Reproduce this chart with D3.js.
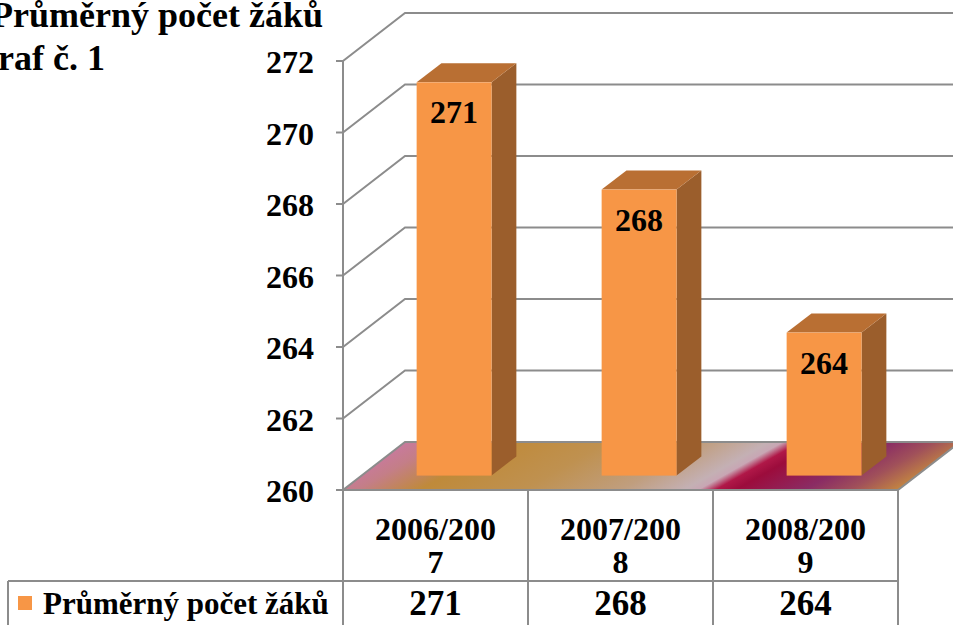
<!DOCTYPE html>
<html>
<head>
<meta charset="utf-8">
<script src="https://cdn.jsdelivr.net/npm/d3@7"></script>
<style>
  html, body { margin: 0; padding: 0; background: #fff; overflow: hidden; }
  svg { display: block; font-family: "Liberation Serif", "Times New Roman", serif; font-weight: bold; }
</style>
</head>
<body>
<div id="chart"></div>
<script>
// data
var categories = ['2006/2007', '2007/2008', '2008/2009'];
var values = [271, 268, 264];
var seriesName = 'Průměrný počet žáků';
var titleLines = ['Průměrný počet žáků', 'Graf č. 1'];
var yTicks = [260, 262, 264, 266, 268, 270, 272];

var W = 953, H = 625;
var conf = {
    left: 343, right: 898, top: 61, bottom: 490,
    depthX: 62, depthY: -48,
    barFront: 0.3, barBack: 0.7, barRatio: 0.405
};
var gridColor = '#8c8c8c';

var svg = d3.select('#chart').append('svg')
    .attr('width', W)
    .attr('height', H);

var y = d3.scaleLinear().domain([260, 272]).range([conf.bottom, conf.top]);
var x = d3.scaleBand().domain(categories).range([conf.left, conf.right]);

// floor gradient
var defs = svg.append('defs');
var grad = defs.append('linearGradient')
    .attr('id', 'floorGrad')
    .attr('gradientUnits', 'userSpaceOnUse')
    .attr('x1', 405).attr('y1', 443)
    .attr('x2', 544).attr('y2', 689);
var stops = [
    [0.0, '#c87a9c'], [0.06, '#c47e88'], [0.17, '#bf8a3a'], [0.35, '#bf9150'],
    [0.52, '#c09e7e'], [0.63, '#c4b0b4'], [0.655, '#c8a6b4'], [0.685, '#b01848'],
    [0.72, '#9c0c3c'], [0.78, '#941c50'], [0.84, '#8a2c64'], [0.92, '#a0505a'],
    [1.0, '#c28442']
];
grad.selectAll('stop').data(stops).enter().append('stop')
    .attr('offset', function(d) { return d[0]; })
    .attr('stop-color', function(d) { return d[1]; });

// gridlines: left wall + back wall
var grid = svg.append('g').attr('class', 'grid');
grid.selectAll('path').data(yTicks.slice(1)).enter().append('path')
    .attr('d', function(d) {
        var yy = y(d);
        return 'M' + conf.left + ',' + yy +
            'L' + (conf.left + conf.depthX) + ',' + (yy + conf.depthY) +
            'L' + W + ',' + (yy + conf.depthY);
    })
    .attr('fill', 'none')
    .attr('stroke', gridColor)
    .attr('stroke-width', 2);

// floor
var fy = y(260);
svg.append('path')
    .attr('d', 'M' + conf.left + ',' + fy +
        'L' + conf.right + ',' + fy +
        'L' + (conf.right + conf.depthX) + ',' + (fy + conf.depthY) +
        'L' + (conf.left + conf.depthX) + ',' + (fy + conf.depthY) + 'Z')
    .attr('fill', 'url(#floorGrad)')
    .attr('stroke', gridColor)
    .attr('stroke-width', 2);

// y axis line + ticks
svg.append('line')
    .attr('x1', conf.left).attr('x2', conf.left)
    .attr('y1', y(272)).attr('y2', y(260))
    .attr('stroke', gridColor).attr('stroke-width', 2);

svg.append('g').selectAll('line').data(yTicks).enter().append('line')
    .attr('x1', conf.left - 7).attr('x2', conf.left)
    .attr('y1', function(d) { return y(d); })
    .attr('y2', function(d) { return y(d); })
    .attr('stroke', gridColor).attr('stroke-width', 2);

svg.append('g').selectAll('text').data(yTicks).enter().append('text')
    .attr('x', 314)
    .attr('y', function(d) { return y(d) + 12; })
    .attr('text-anchor', 'end')
    .attr('font-size', 32)
    .text(function(d) { return d; });

// bars
var bw = x.bandwidth() * conf.barRatio;
var fdx = conf.depthX * conf.barFront, fdy = conf.depthY * conf.barFront;
var ddx = conf.depthX * (conf.barBack - conf.barFront), ddy = conf.depthY * (conf.barBack - conf.barFront);

var bars = svg.append('g').selectAll('g').data(values).enter().append('g')
    .attr('transform', function(d, i) {
        return 'translate(' + (x(categories[i]) + x.bandwidth() / 2 - bw / 2 + fdx) + ',' + fdy + ')';
    });

bars.append('path')
    .attr('d', function(d) {
        var t = y(d), b = y(260);
        return 'M' + bw + ',' + t + 'L' + (bw + ddx) + ',' + (t + ddy) +
            'L' + (bw + ddx) + ',' + (b + ddy) + 'L' + bw + ',' + b + 'Z';
    })
    .attr('fill', '#9b5e2c');

bars.append('path')
    .attr('d', function(d) {
        var t = y(d);
        return 'M0,' + t + 'L' + bw + ',' + t + 'L' + (bw + ddx) + ',' + (t + ddy) +
            'L' + ddx + ',' + (t + ddy) + 'Z';
    })
    .attr('fill', '#b96f33');

bars.append('rect')
    .attr('x', 0)
    .attr('y', function(d) { return y(d); })
    .attr('width', bw)
    .attr('height', function(d) { return y(260) - y(d); })
    .attr('fill', '#f79646');

bars.append('text')
    .attr('x', bw / 2)
    .attr('y', function(d) { return y(d) + 41; })
    .attr('text-anchor', 'middle')
    .attr('font-size', 32)
    .text(function(d) { return d; });

// data table
var table = svg.append('g').attr('stroke', gridColor).attr('stroke-width', 2);
var colEdges = [conf.left].concat(categories.map(function(c) { return x(c) + x.bandwidth(); }));
table.selectAll('line.v').data(colEdges).enter().append('line')
    .attr('class', 'v')
    .attr('x1', function(d) { return d; }).attr('x2', function(d) { return d; })
    .attr('y1', fy).attr('y2', H);
table.append('line').attr('x1', 8).attr('x2', conf.right).attr('y1', 581).attr('y2', 581);
table.append('line').attr('x1', 8).attr('x2', 8).attr('y1', 581).attr('y2', H);

svg.append('g').selectAll('text').data(categories).enter().append('text')
    .attr('text-anchor', 'middle')
    .attr('font-size', 32)
    .each(function(d) {
        var t = d3.select(this), cx = x(d) + x.bandwidth() / 2;
        t.append('tspan').attr('x', cx).attr('y', 540).text(d.slice(0, 8));
        t.append('tspan').attr('x', cx).attr('y', 573).text(d.slice(8));
    });

svg.append('g').selectAll('text').data(values).enter().append('text')
    .attr('x', function(d, i) { return x(categories[i]) + x.bandwidth() / 2; })
    .attr('y', 615)
    .attr('text-anchor', 'middle')
    .attr('font-size', 35)
    .text(function(d) { return d; });

// legend key
svg.append('rect')
    .attr('x', 18).attr('y', 596).attr('width', 14).attr('height', 14)
    .attr('fill', '#f79646');
svg.append('text')
    .attr('x', 43).attr('y', 614)
    .attr('font-size', 31)
    .text(seriesName);

// title (clipped on the left in the original)
svg.append('g').selectAll('text').data(titleLines).enter().append('text')
    .attr('x', function(d, i) { return i === 0 ? -9 : -30; })
    .attr('y', function(d, i) { return i === 0 ? 27 : 70; })
    .attr('font-size', 36)
    .text(function(d) { return d; });
</script>
</body>
</html>
